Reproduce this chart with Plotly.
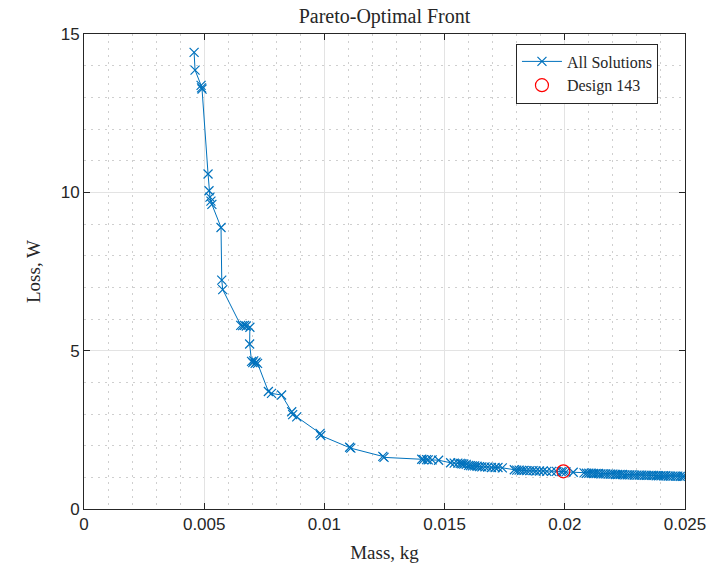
import plotly.graph_objects as go

mass = [
    0.00458, 0.00462, 0.00487, 0.00489, 0.00491, 0.00516, 0.00520, 0.00524, 0.00528, 0.00532,
    0.00570, 0.00573, 0.00577, 0.00652, 0.00660, 0.00668, 0.00675, 0.00690, 0.00689, 0.00697,
    0.00702, 0.00706, 0.00712, 0.00716, 0.00722, 0.00767, 0.00780, 0.00822, 0.00864, 0.00868,
    0.00885, 0.00982, 0.00985, 0.01105, 0.01110, 0.01243, 0.01248, 0.01405, 0.01412, 0.01425,
    0.01432, 0.01448, 0.01475, 0.01525, 0.01540, 0.01555, 0.01565, 0.01572, 0.01580, 0.01590,
    0.01600, 0.01608, 0.01616, 0.01625, 0.01635, 0.01645, 0.01655, 0.01668, 0.01680, 0.01695,
    0.01710, 0.01722, 0.01740, 0.01790, 0.01800, 0.01810, 0.01820, 0.01830, 0.01842, 0.01855,
    0.01868, 0.01880, 0.01895, 0.01910, 0.01925, 0.01945, 0.01965, 0.01985, 0.01994, 0.02005,
    0.02035, 0.02080, 0.02090, 0.02100, 0.02110, 0.02120, 0.02130, 0.02140, 0.02150, 0.02160,
    0.02170, 0.02180, 0.02190, 0.02200, 0.02210, 0.02220, 0.02230, 0.02240, 0.02250, 0.02260,
    0.02270, 0.02280, 0.02290, 0.02300, 0.02310, 0.02320, 0.02330, 0.02340, 0.02350, 0.02360,
    0.02370, 0.02380, 0.02390, 0.02400, 0.02410, 0.02420, 0.02430, 0.02440, 0.02450, 0.02460,
    0.02470, 0.02480, 0.02490, 0.02497,
]
loss = [
    14.42, 13.86, 13.38, 13.30, 13.26, 10.58, 10.05, 9.85, 9.72, 9.62,
    8.89, 7.23, 6.93, 5.80, 5.79, 5.80, 5.78, 5.74, 5.21, 4.66,
    4.62, 4.68, 4.60, 4.64, 4.60, 3.71, 3.65, 3.60, 3.07, 2.98,
    2.91, 2.39, 2.32, 1.95, 1.92, 1.66, 1.63, 1.57, 1.56, 1.56,
    1.55, 1.55, 1.54, 1.46, 1.45, 1.45, 1.44, 1.43, 1.42, 1.41,
    1.38, 1.37, 1.36, 1.36, 1.35, 1.34, 1.33, 1.33, 1.32, 1.31,
    1.31, 1.31, 1.30, 1.24, 1.23, 1.23, 1.22, 1.22, 1.21, 1.21,
    1.21, 1.20, 1.20, 1.20, 1.19, 1.19, 1.19, 1.18, 1.19, 1.17,
    1.16, 1.14, 1.13, 1.13, 1.13, 1.12, 1.12, 1.12, 1.11, 1.11,
    1.11, 1.10, 1.10, 1.10, 1.09, 1.09, 1.09, 1.09, 1.08, 1.08,
    1.08, 1.08, 1.07, 1.07, 1.07, 1.07, 1.06, 1.06, 1.06, 1.06,
    1.06, 1.05, 1.05, 1.05, 1.05, 1.05, 1.04, 1.04, 1.04, 1.04,
    1.04, 1.03, 1.03, 1.03,
]
design_mass = [0.01994]
design_loss = [1.19]

x_ticks = [0, 0.005, 0.01, 0.015, 0.02, 0.025]
x_tick_labels = ["0", "0.005", "0.01", "0.015", "0.02", "0.025"]
y_ticks = [0, 5, 10, 15]

serif = "Liberation Serif, DejaVu Serif, serif"
sans = "Liberation Sans, Arial, sans-serif"
blue = "#0072BD"

fig = go.Figure()
fig.add_trace(go.Scatter(
    x=mass, y=loss, mode="lines+markers", name="All Solutions",
    line=dict(color=blue, width=1),
    marker=dict(symbol="x-thin", size=9, color=blue, line=dict(width=1.2, color=blue)),
))
fig.add_trace(go.Scatter(
    x=design_mass, y=design_loss, mode="markers", name="Design 143",
    marker=dict(symbol="circle-open", size=13, color="#FF0000", line=dict(width=1.2, color="#FF0000")),
))

axis_common = dict(
    showline=True, linecolor="#262626", linewidth=1, mirror="allticks",
    ticks="inside", ticklen=6, tickcolor="#262626", tickwidth=1,
    showgrid=True, gridcolor="#e3e3e3", gridwidth=1, zeroline=False,
    tickfont=dict(family=sans, size=17, color="#262626"),
    automargin=False,
)

fig.update_xaxes(
    range=[0, 0.025], tickvals=x_ticks, ticktext=x_tick_labels,
    minor=dict(dtick=0.001, tick0=0, showgrid=True, gridcolor="#cfcfcf", griddash="2px,5px", ticks=""),
    title=dict(text="Mass, kg", font=dict(family=serif, size=19, color="#262626")),
    **axis_common,
)
fig.update_yaxes(
    range=[0, 15], tickvals=y_ticks,
    minor=dict(dtick=1, tick0=0, showgrid=True, gridcolor="#cfcfcf", griddash="2px,5px", ticks=""),
    title=dict(text="Loss, W", font=dict(family=serif, size=19, color="#262626")),
    **axis_common,
)

fig.update_layout(
    width=725, height=563,
    margin=dict(l=84, r=40, t=34, b=54),
    paper_bgcolor="white", plot_bgcolor="white",
    title=dict(text="Pareto-Optimal Front", x=0.5, xref="paper", xanchor="center",
               y=1 - 16 / 563, yanchor="middle",
               font=dict(family=serif, size=20, color="#262626")),
    legend=dict(x=0.955, y=0.98, xanchor="right", yanchor="top",
                bgcolor="white", bordercolor="#262626", borderwidth=1,
                font=dict(family=serif, size=16, color="#262626"),
                tracegroupgap=0, itemwidth=40),
    showlegend=True,
)

fig.write_html("out.html")
